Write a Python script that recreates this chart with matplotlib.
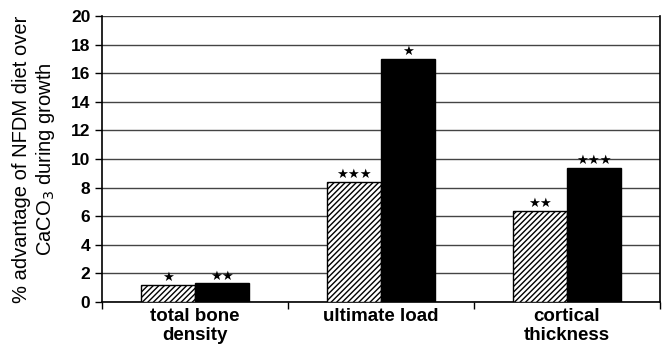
import numpy as np
import matplotlib.pyplot as plt
from matplotlib.ticker import FixedLocator

plt.rcParams['font.family'] = ['Liberation Sans', 'DejaVu Sans']
plt.rcParams['hatch.linewidth'] = 1.0

categories = ['total bone\ndensity', 'ultimate load', 'cortical\nthickness']
hatched_vals = [1.2, 8.4, 6.4]
black_vals = [1.3, 17.0, 9.4]
hatched_stars = [1, 3, 2]
black_stars = [2, 1, 3]

fig = plt.figure(figsize=(6.63, 3.48), dpi=100)
ax = fig.add_axes([0.154, 0.132, 0.8415, 0.822])

x = np.arange(len(categories))
w = 0.29
b1 = ax.bar(x - w / 2, hatched_vals, w, facecolor='white', edgecolor='black',
            hatch='//////', linewidth=1.0, zorder=3)
b2 = ax.bar(x + w / 2, black_vals, w, facecolor='black', edgecolor='black',
            linewidth=1.0, zorder=3)

# significance stars
for bars, stars in [(b1, hatched_stars), (b2, black_stars)]:
    for r, n in zip(bars, stars):
        ax.text(r.get_x() + r.get_width() / 2, r.get_height() + 0.25, '\u2605' * n,
                ha='center', va='baseline', fontsize=9.5, family='DejaVu Sans', zorder=4)

ax.set_xlim(-0.5, 2.5)
ax.set_ylim(0, 20)
ax.set_yticks(np.arange(0, 21, 2))
ax.yaxis.grid(True, color='#444444', linewidth=1.0, zorder=0)
ax.set_xticks(x)
ax.set_xticklabels(categories, fontsize=13.5, fontweight='bold')
ax.xaxis.set_minor_locator(FixedLocator([-0.5, 0.5, 1.5, 2.5]))
ax.tick_params(axis='x', which='major', length=0, pad=4)
ax.tick_params(axis='x', which='minor', length=5, direction='out', width=1.0)
ax.tick_params(axis='y', length=5, direction='out', width=1.0, labelsize=12.5)
for lab in ax.get_yticklabels():
    lab.set_fontweight('bold')

ax.spines['top'].set_visible(False)
for sp in ['left', 'bottom', 'right']:
    ax.spines[sp].set_linewidth(1.2)

ax.set_ylabel('% advantage of NFDM diet over\nCaCO$_3$ during growth', fontsize=14.5,
              labelpad=10)

fig.savefig('out.png', dpi=100)
